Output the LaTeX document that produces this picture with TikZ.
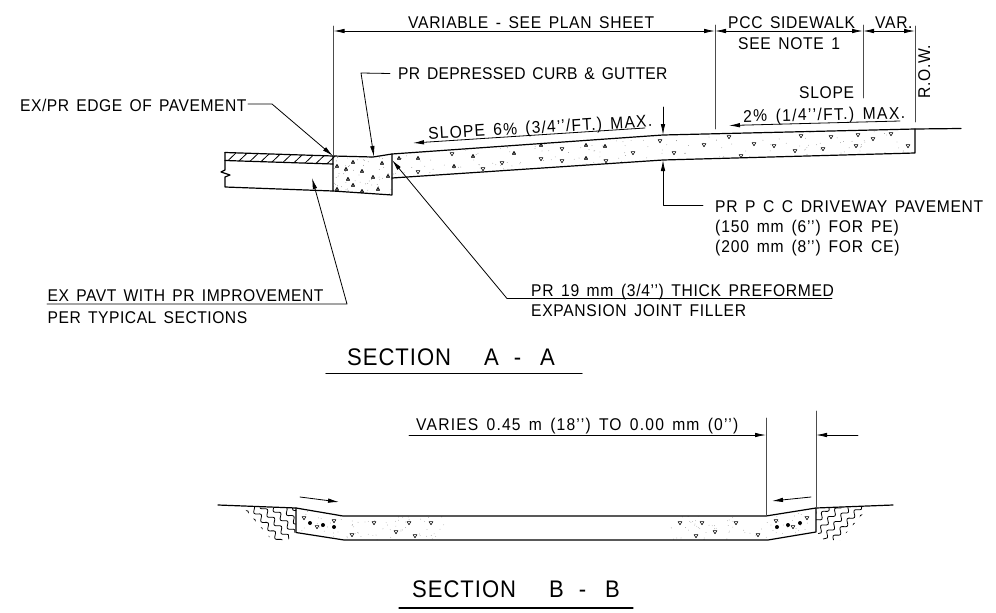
\documentclass[tikz,border=0pt]{standalone}
\usepackage{fontspec}
\setmainfont[LetterSpace=4,FakeStretch=0.92,WordSpace=1.5]{Liberation Sans}
\usetikzlibrary{arrows.meta}
\usetikzlibrary{decorations.pathmorphing}
\tikzset{
	cadtext/.style={anchor=west,inner sep=0pt,text height=12.2pt,text depth=0pt,font=\fontsize{17}{20}\selectfont},
	cadspaced/.style={font=\fontsize{17}{20}\selectfont\addfontfeature{LetterSpace=#1}},
	sectiontext/.style={anchor=west,inner sep=0pt,text height=17.2pt,text depth=0pt,font=\fontsize{24}{28}\selectfont},
	outline/.style={line width=1.2pt},
	thinline/.style={line width=0.8pt},
	extline/.style={line width=0.9pt,color=black!70},
	leader/.style={line width=0.8pt,-{Latex[length=11pt,width=4.5pt]}},
	dimline/.style={line width=0.8pt,{Latex[length=11pt,width=4.5pt]}-{Latex[length=11pt,width=4.5pt]}},
	wavy/.style={line width=0.8pt,decorate,decoration={snake,amplitude=2.4pt,segment length=11pt}}
}
\newcommand{\aggup}[2]{\draw[line width=0.6pt,fill=black!60] (#1,#2) ++(-1.7,1.3) -- ++(3.4,0) -- ++(-1.7,-3) -- cycle;}
\newcommand{\aggdown}[2]{\draw[line width=0.6pt,fill=white] (#1,#2) ++(-1.9,-1.4) -- ++(3.8,0) -- ++(-1.9,3.2) -- cycle;}
\newcommand{\soilwaves}{
	\begin{scope}
		\clip (243,507) -- (296,508) -- (296,531) -- (288,540) -- (272,540) -- cycle;
		\foreach \k in {-1,0,...,6}
			\draw[wavy] ({244+\k*6.2},{510-\k*5.1}) -- ++(33,40);
	\end{scope}
}
\begin{document}
\begin{tikzpicture}[line cap=round,line join=round,x=1pt,y=-1pt]
	\useasboundingbox (0,0) rectangle (996,613);
	\coordinate (curbtl) at (333,156);
	\coordinate (curbdip) at (373,157);
	\coordinate (curbtr) at (392,154);
	\coordinate (walkedge) at (663,135);
	\coordinate (walkbot) at (663,160);
	\coordinate (rowtop) at (915,129);
	\begin{scope}
		\clip (392,154) -- (663,135) -- (915,129) -- (915,153) -- (663,160) -- (392,178) -- cycle;
		\pgfmathsetseed{4711}
		\foreach \i in {1,...,260}
			\fill[black!45] ({392+rnd*523},{130+rnd*48}) circle (0.4pt);
	\end{scope}
	\begin{scope}
		\clip (333,156) -- (373,157) -- (392,154) -- (392,195) -- (333,191) -- cycle;
		\pgfmathsetseed{815}
		\foreach \i in {1,...,70}
			\fill[black!50] ({333+rnd*59},{154+rnd*41}) circle (0.4pt);
	\end{scope}
	\foreach \px/\py in {353/162,337/166,382/163,346/169,362/171,373/177,388/176,348/179,353/185,337/189,362/191,378/189,399/158,418/158,473/156,514/153,541/145,586/145,454/166,586/158,605/146}
		\aggup{\px}{\py};
	\foreach \px/\py in {452/154,562/149,502/163,541/159,562/161,418/172,483/169,633/153,606/161,660/141,674/153,704/145,729/137,754/144,774/146,741/156,795/151,801/136,823/149,831/137,856/146,858/135,873/139,891/134,908/146}
		\aggdown{\px}{\py};
	\draw[outline] (225,152.5) -- (curbtl) -- (curbdip) -- (curbtr) -- (walkedge) -- (rowtop) -- (961,128.5);
	\draw[outline] (rowtop) -- (915,153) -- (walkbot) -- (392,178);
	\draw[outline] (curbtl) -- (333,191) -- (392,195) -- (curbtr);
	\draw[outline] (225,160.5) -- (333,164);
	\draw[outline] (225,152.5) -- (225,170) -- (221,172) -- (230,175) -- (225,177) -- (225,187) -- (333,191);
	\foreach \h in {236,247,...,335}
		\draw[thinline] ({\h-8},{160.5+(\h-233)*0.032}) -- (\h,{152.6+(\h-225)*0.032});
	\draw[extline] (333.5,26) -- (333.5,155);
	\draw[extline] (715,25) -- (715,129);
	\draw[extline] (863,25) -- (863,98);
	\draw[extline] (915,26) -- (915,122);
	\draw[dimline] (333.5,31) -- (715,31);
	\draw[dimline] (715,31) -- (863,31);
	\draw[dimline] (863,31) -- (915,31);
	\node[cadtext] (variablelabel) at (408,22) {VARIABLE - SEE PLAN SHEET};
	\node[cadtext] (sidewalklabel) at (728,22) {PCC SIDEWALK};
	\node[cadtext] (varlabel) at (875,22) {VAR.};
	\node[cadtext] (notelabel) at (738,43) {SEE NOTE 1};
	\node[cadtext,rotate=90] (rowlabel) at (924,99) {R.O.W.};
	\node[cadtext,cadspaced=3] (edgelabel) at (20,105.5) {EX/PR EDGE OF PAVEMENT};
	\coordinate (edgestart) at (248,104);
	\coordinate (edgebend) at (272,104);
	\draw[leader] (edgestart) -- (edgebend) -- (curbtl);
	\node[cadtext,cadspaced=1.5] (curblabel) at (398,73.5) {PR DEPRESSED CURB \& GUTTER};
	\coordinate (curbbend) at (361,73);
	\draw[leader] (curblabel.west) ++(-8,0) -- (curbbend) -- (374,157);
	\node[cadtext,cadspaced=7,rotate=3.3] (slopesixlabel) at (428,133.5) {SLOPE 6\% (3/4{'}{'}/FT.) MAX.};
	\coordinate (slopesixstart) at (645,128);
	\coordinate (slopesixtip) at (413,143);
	\draw[leader] (slopesixstart) -- (slopesixtip);
	\node[cadtext] (slopelabel) at (799,92) {SLOPE};
	\node[cadtext,cadspaced=8,rotate=1.2] (slopetwolabel) at (743,116) {2\% (1/4{'}{'}/FT.) MAX.};
	\coordinate (slopetwostart) at (900,121);
	\coordinate (slopetwotip) at (729,125.5);
	\draw[leader] (slopetwostart) -- (slopetwotip);
	\coordinate (thicktop) at (663,107);
	\draw[leader] (thicktop) -- (walkedge);
	\node[cadtext] (drivewaylabel) at (715,206) {PR P C C DRIVEWAY PAVEMENT};
	\node[cadtext,cadspaced=5] (pelabel) at (715,226) {(150 mm (6{'}{'}) FOR PE)};
	\node[cadtext,cadspaced=5] (celabel) at (715,246) {(200 mm (8{'}{'}) FOR CE)};
	\coordinate (thickbend) at (663,205.5);
	\draw[leader] (703,205.5) -- (thickbend) -- (walkbot);
	\node[cadtext,cadspaced=3] (pavtlabel) at (47.5,295) {EX PAVT WITH PR IMPROVEMENT};
	\node[cadtext,cadspaced=3] (typicallabel) at (47.5,317) {PER TYPICAL SECTIONS};
	\coordinate (pavtleft) at (47,304);
	\coordinate (pavtbend) at (347,304);
	\draw[leader] (pavtleft) -- (pavtbend) -- (312,178);
	\node[cadtext] (jointlabel) at (531,290) {PR 19 mm (3/4{'}{'}) THICK PREFORMED};
	\node[cadtext] (fillerlabel) at (531,310) {EXPANSION JOINT FILLER};
	\coordinate (jointright) at (832,298.5);
	\coordinate (jointbend) at (507,298.5);
	\draw[leader] (jointright) -- (jointbend) -- (392,160);
	\node[sectiontext] (sectionalabel) at (347,356.5) {SECTION\hspace{33pt}A\hspace{15pt}-\hspace{19pt}A};
	\coordinate (sectionaleft) at (326,373.5);
	\coordinate (sectionaright) at (582,373.5);
	\draw[line width=1.3pt] (sectionaleft) -- (sectionaright);
	\begin{scope}
		\clip (296,508) -- (343,516) -- (766,516) -- (816,508) -- (816,532) -- (768,540) -- (344,540) -- (296,532.5) -- cycle;
		\pgfmathsetseed{2024}
		\foreach \i in {1,...,90}
			\fill[black!40] ({296+rnd*150},{508+rnd*32}) circle (0.4pt);
		\foreach \i in {1,...,90}
			\fill[black!40] ({670+rnd*146},{508+rnd*32}) circle (0.4pt);
	\end{scope}
	\foreach \px/\py in {304/518,334/521,317/527,352/535,374/523,396/532,409/523,415/536,431/523,680/523,702/523,696/536,715/532,736/523,758/535,776/521,793/527,807/518}
		\aggdown{\px}{\py};
	\foreach \px/\py in {310/523,323/525,334/527,777/527,788/525,800/523}
		\fill (\px,\py) circle (2pt);
	\draw[outline] (218,505) -- (296,508) -- (343,516) -- (766,516) -- (816,508) -- (893,505);
	\draw[outline] (296,508) -- (296,532.5) -- (344,540) -- (768,540) -- (816,532) -- (816,508);
	\soilwaves
	\begin{scope}[shift={(1112,0)},xscale=-1]
		\soilwaves
	\end{scope}
	\draw[extline] (766.5,418) -- (766.5,516);
	\draw[extline] (816,411) -- (816,508);
	\node[cadtext,cadspaced=7] (varieslabel) at (416,424) {VARIES 0.45 m (18{'}{'}) TO 0.00 mm (0{'}{'})};
	\coordinate (variesleft) at (409,435);
	\coordinate (variestip) at (766,435);
	\coordinate (outerstart) at (858,435);
	\coordinate (outertip) at (816,435);
	\draw[leader] (variesleft) -- (variestip);
	\draw[leader] (outerstart) -- (outertip);
	\coordinate (flowleftstart) at (300,497);
	\coordinate (flowlefttip) at (339,502);
	\coordinate (flowrightstart) at (811,497);
	\coordinate (flowrighttip) at (772,501);
	\draw[leader] (flowleftstart) -- (flowlefttip);
	\draw[leader] (flowrightstart) -- (flowrighttip);
	\node[sectiontext] (sectionblabel) at (412,589) {SECTION\hspace{33pt}B\hspace{15pt}-\hspace{19pt}B};
	\coordinate (sectionbleft) at (399,608);
	\coordinate (sectionbright) at (633,608);
	\draw[line width=1.3pt] (sectionbleft) -- (sectionbright);
\end{tikzpicture}
\end{document}
